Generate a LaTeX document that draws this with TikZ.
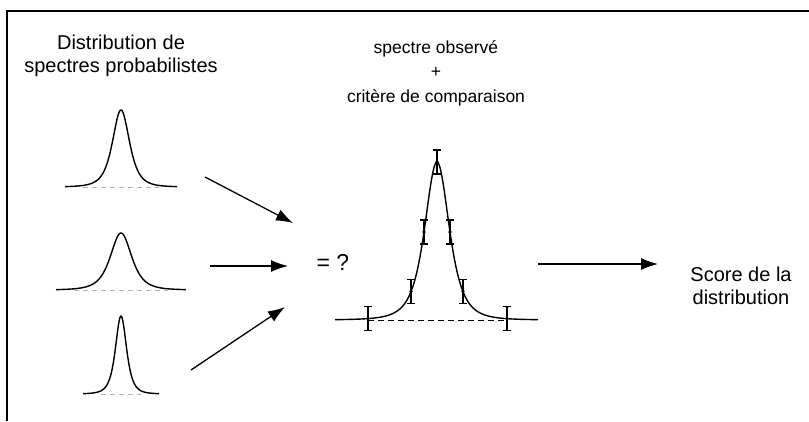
\documentclass[tikz,border=0pt]{standalone}
\usepackage{fontspec}
\setmainfont{Liberation Sans}
\usetikzlibrary{arrows.meta,positioning}

\begin{document}
\begin{tikzpicture}[x=1pt,y=-1pt,>={Latex[length=17pt,width=12pt]},
  spec/.style={line width=1.4pt,line join=round},
  basedash/.style={gray!60,line width=1pt,dash pattern=on 5pt off 4pt},
  errbar/.style={line width=1.2pt},
  arrow/.style={->,line width=1.3pt},
  lbl/.style={align=center,font=\fontsize{20}{23}\selectfont,inner sep=0pt},
  small lbl/.style={lbl,font=\fontsize{17.5}{24.5}\selectfont}]
\useasboundingbox (0,0) rectangle (809,421);
\draw[line width=1.3pt] (7,421) -- (7,11) -- (809,11);
% texts
\node[lbl] (probas) at (121,56) {Distribution de\\spectres probabilistes};
\node[small lbl] (observe) at (436,73) {spectre observ\'e\\+\\crit\`ere de comparaison};
\node[lbl,font=\fontsize{23}{26}\selectfont] (eq) at (333,262) {= ?};
\node[lbl] (score) at (741,286) {Score de la\\distribution};
% the three probabilistic spectra
\foreach \cx/\by/\h/\ww/\xa/\xb/\nm in {121/187/77/240/65/177/p1,121/290/57/377/56/186/p2,121/394/78/102/83/159/p3}{
  \draw[basedash] (\xa+18,\by) -- (\xb-18,\by);
  \draw[spec] plot[domain=\xa:\xb,samples=150] (\x,{\by-\h/(1+(\x-\cx)*(\x-\cx)/\ww)^2});
  \coordinate (\nm) at (\cx,\by);
}
% observed spectrum with error bars
\draw[dashed,line width=1pt,dash pattern=on 6pt off 4pt] (368,320) -- (507,320);
\draw[spec] plot[domain=335:538,samples=200] (\x,{320-158/(1+(\x-437)*(\x-437)/497)^2});
\foreach \px in {368,411,424,437,450,463,507}{
  \pgfmathsetmacro\py{320-158/(1+(\px-437)*(\px-437)/497)^2}
  \draw[errbar] (\px,\py-12) -- (\px,\py+12)
    (\px-4,\py-12) -- (\px+4,\py-12) (\px-4,\py+12) -- (\px+4,\py+12);
  \fill (\px,\py) circle (1.8);
}
% arrows
\coordinate (a1) at (205,177); \coordinate (b1) at (293,223);
\coordinate (a2) at (210,266); \coordinate (b2) at (288,266);
\coordinate (a3) at (191,370); \coordinate (b3) at (285,307);
\coordinate (a4) at (538,264); \coordinate (b4) at (658,264);
\draw[arrow] (a1) -- (b1);
\draw[arrow] (a2) -- (b2);
\draw[arrow] (a3) -- (b3);
\draw[arrow] (a4) -- (b4);
\end{tikzpicture}
\end{document}
